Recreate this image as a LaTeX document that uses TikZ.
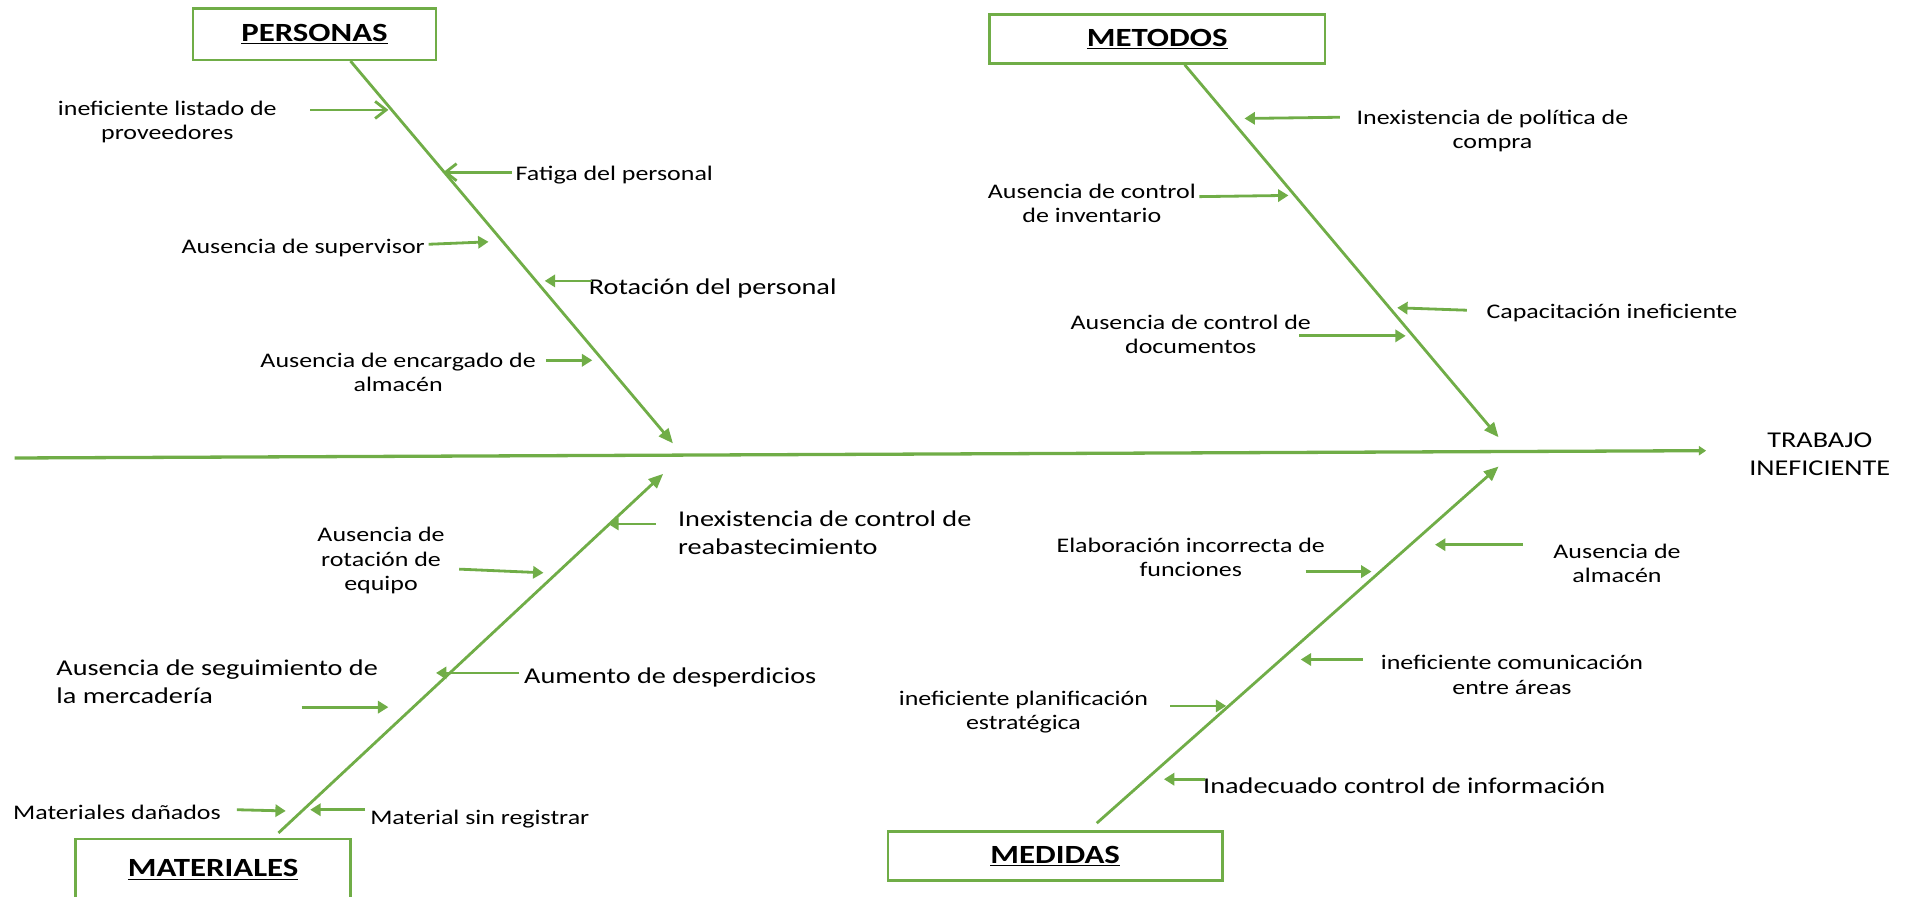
\documentclass[tikz,border=0pt]{standalone}
\usepackage{fontspec}
\setmainfont{Carlito}[FakeStretch=1.25]
\usetikzlibrary{arrows.meta}
\definecolor{fishgreen}{HTML}{70AD47}
\tikzset{
  titlebox/.style={draw=fishgreen, line width=2.2pt, inner sep=0pt, font=\fontsize{21.5}{26}\selectfont\bfseries},
  lbl/.style={inner sep=0pt, align=center, yshift=-2pt, font=\fontsize{17}{20}\selectfont},
  biglbl/.style={inner sep=0pt, align=center, yshift=-2pt, font=\fontsize{18.5}{23}\selectfont},
  bone/.style={draw=fishgreen, line width=2.3pt, -{Triangle[length=12pt,width=10pt]}},
  spine/.style={draw=fishgreen, line width=2.7pt, -{Triangle[length=6pt,width=7.5pt]}},
  cause/.style={draw=fishgreen, line width=2.3pt, -{Triangle[length=8.5pt,width=10pt]}},
  causeopen/.style={draw=fishgreen, line width=2.3pt, -{Straight Barb[length=9pt,width=14pt,line width=2.3pt]}}
}
\begin{document}
\begin{tikzpicture}[x=1pt,y=-1pt]
\useasboundingbox (0,0) rectangle (1568,734);

% title boxes
\node[titlebox, minimum width=199pt, minimum height=42pt] (pers) at (257.5,28) {\underline{PERSONAS}};
\node[titlebox, minimum width=275pt, minimum height=40pt] (met) at (947.5,32) {\underline{METODOS}};
\node[titlebox, minimum width=225pt, minimum height=54pt] (mat) at (174.5,714) {\raisebox{6pt}{\underline{MATERIALES}}};
\node[titlebox, minimum width=274pt, minimum height=40pt] (med) at (864,701) {\underline{MEDIDAS}};

% effect
\node[biglbl] (effect) at (1490,370) {TRABAJO\\INEFICIENTE};

% spine
\coordinate (sp0) at (12,375);
\coordinate (sp1) at (1397,369);
\draw[spine] (sp0) -- (sp1);

% bones
\coordinate (pb0) at (287,50);   \coordinate (pb1) at (551,363);
\coordinate (mb0) at (970,53);   \coordinate (mb1) at (1227,358);
\coordinate (ab0) at (228,682);  \coordinate (ab1) at (543,388);
\coordinate (db0) at (898,674);  \coordinate (db1) at (1227,382);
\draw[bone] (pb0) -- (pb1);
\draw[bone] (mb0) -- (mb1);
\draw[bone] (ab0) -- (ab1);
\draw[bone] (db0) -- (db1);

% PERSONAS causes
\node[lbl] (t1) at (137,98) {ineficiente listado de\\proveedores};
\node[lbl, anchor=west] (t2) at (422,141) {Fatiga del personal};
\node[lbl, anchor=east] (t3) at (348,201) {Ausencia de supervisor};
\node[biglbl, anchor=west] (t4) at (482,234) {Rotación del personal};
\node[lbl] (t5) at (326,303) {Ausencia de encargado de\\almacén};
\coordinate (t1a) at (254,90);  \coordinate (t1b) at (318,90);
\coordinate (t2a) at (419,141); \coordinate (t2b) at (363,141);
\coordinate (t3a) at (351,200); \coordinate (t3b) at (400,198);
\coordinate (t4a) at (485,230); \coordinate (t4b) at (446,230);
\coordinate (t5a) at (447,295); \coordinate (t5b) at (485,295);
\draw[causeopen] (t1a) -- (t1b);
\draw[causeopen] (t2a) -- (t2b);
\draw[cause] (t3a) -- (t3b);
\draw[cause] (t4a) -- (t4b);
\draw[cause] (t5a) -- (t5b);

% METODOS causes
\node[lbl] (m1) at (1222,105) {Inexistencia de política de\\compra};
\node[lbl] (m2) at (894,164.5) {Ausencia de control\\de inventario};
\node[lbl, anchor=west] (m3) at (1217,254) {Capacitación ineficiente};
\node[lbl] (m4) at (975,272) {Ausencia de control de\\documentos};
\coordinate (m1a) at (1097,96);  \coordinate (m1b) at (1019,97);
\coordinate (m2a) at (982,161);  \coordinate (m2b) at (1055,160);
\coordinate (m3a) at (1201,254); \coordinate (m3b) at (1144,252);
\coordinate (m4a) at (1064,275); \coordinate (m4b) at (1151,275);
\draw[cause] (m1a) -- (m1b);
\draw[cause] (m2a) -- (m2b);
\draw[cause] (m3a) -- (m3b);
\draw[cause] (m4a) -- (m4b);

% MATERIALES causes
\node[biglbl, align=left, anchor=west] (a1) at (555,434.5) {Inexistencia de control de\\reabastecimiento};
\node[lbl] (a2) at (312,457) {Ausencia de\\rotación de\\equipo};
\node[biglbl, anchor=west] (a3) at (429,553) {Aumento de desperdicios};
\node[biglbl, align=left, anchor=west] (a4) at (46,556.5) {Ausencia de seguimiento de\\la mercadería};
\node[lbl, anchor=east] (a5) at (181,663) {Materiales dañados};
\node[lbl, anchor=west] (a6) at (303,669) {Material sin registrar};
\coordinate (a1a) at (537,429); \coordinate (a1b) at (498,429);
\coordinate (a2a) at (376,466); \coordinate (a2b) at (445,469);
\coordinate (a3a) at (425,551); \coordinate (a3b) at (357,551);
\coordinate (a4a) at (247,579); \coordinate (a4b) at (318,579);
\coordinate (a5a) at (194,663); \coordinate (a5b) at (234,664);
\coordinate (a6a) at (299,663); \coordinate (a6b) at (254,663);
\draw[cause] (a1a) -- (a1b);
\draw[cause] (a2a) -- (a2b);
\draw[cause] (a3a) -- (a3b);
\draw[cause] (a4a) -- (a4b);
\draw[cause] (a5a) -- (a5b);
\draw[cause] (a6a) -- (a6b);

% MEDIDAS causes
\node[lbl] (d1) at (975,454.5) {Elaboración incorrecta de\\funciones};
\node[lbl] (d2) at (1324,459.5) {Ausencia de\\almacén};
\node[lbl] (d3) at (1238,550.5) {ineficiente comunicación\\entre áreas};
\node[lbl] (d4) at (838,581) {ineficiente planificación\\estratégica};
\node[biglbl, anchor=west] (d5) at (985,641) {Inadecuado control de información};
\coordinate (d1a) at (1069,468); \coordinate (d1b) at (1123,468);
\coordinate (d2a) at (1247,446); \coordinate (d2b) at (1175,446);
\coordinate (d3a) at (1116,540); \coordinate (d3b) at (1065,540);
\coordinate (d4a) at (958,578);  \coordinate (d4b) at (1004,578);
\coordinate (d5a) at (987,638);  \coordinate (d5b) at (953,638);
\draw[cause] (d1a) -- (d1b);
\draw[cause] (d2a) -- (d2b);
\draw[cause] (d3a) -- (d3b);
\draw[cause] (d4a) -- (d4b);
\draw[cause] (d5a) -- (d5b);
\end{tikzpicture}
\end{document}
